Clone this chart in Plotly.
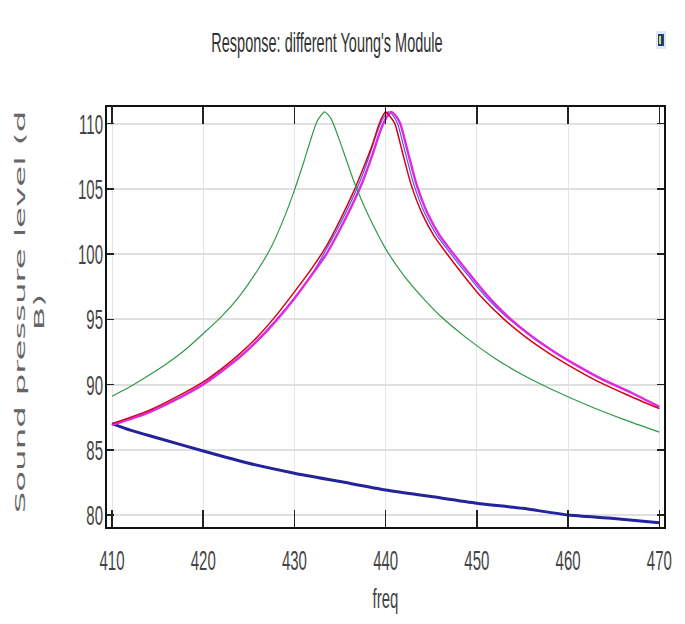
import plotly.graph_objects as go

# ---------------- data ----------------
green_f = [410, 412, 414, 416, 418, 420, 422, 424, 426, 427.5, 429, 430, 431, 431.8, 432.5, 433.3,
           434.0, 434.8, 435.6, 436.5, 437.5, 438.5, 440, 442, 444, 446, 449, 452, 455, 458, 462, 466, 470]
green_v = [89.1, 89.85, 90.7, 91.6, 92.65, 93.9, 95.2, 96.8, 98.8, 100.6, 103.0, 104.9, 107.0, 108.8, 110.2, 110.9,
           110.4, 109.0, 107.4, 105.6, 103.9, 102.4, 100.4, 98.35, 96.7, 95.25, 93.5, 92.0, 90.75, 89.7, 88.45, 87.35, 86.35]

red_f = [410, 414, 418, 420, 422, 424, 426, 428, 430, 432, 433.5, 435, 436.5, 437.5, 438.5, 439.3, 439.7, 440.0,
         440.3, 441.0, 441.8, 442.8, 444.0, 445.3, 446.8, 448.5, 450.5, 452.9, 455.5, 458, 460.5, 463.1, 466.5, 470]
red_v = [87.0, 88.0, 89.4, 90.2, 91.2, 92.35, 93.7, 95.3, 97.1, 99.0, 100.6, 102.6, 104.8, 106.5, 108.3, 110.0, 110.6, 110.9,
         110.7, 110.0, 107.9, 105.3, 103.1, 101.4, 99.95, 98.4, 96.7, 95.05, 93.55, 92.35, 91.3, 90.3, 89.2, 88.15]

magenta_f = [410, 414, 418, 420, 422, 424, 426, 428, 430, 432, 433.5, 435, 436.5, 437.5, 438.5, 439.5, 440.2, 440.6,
             441.0, 441.6, 442.4, 443.4, 444.6, 445.9, 447.4, 449.1, 451.1, 453.4, 456, 458.5, 461, 463.6, 467, 470]
magenta_v = [86.9, 87.85, 89.2, 90.0, 91.0, 92.1, 93.4, 94.9, 96.6, 98.5, 100.0, 101.9, 104.0, 105.6, 107.5, 109.6, 110.6, 110.9,
             110.7, 110.0, 107.9, 105.3, 103.1, 101.45, 100.05, 98.55, 96.85, 95.2, 93.7, 92.5, 91.45, 90.45, 89.35, 88.3]

blue_f = [410, 414, 418, 420, 422, 424, 426, 428, 430, 432, 433.2, 434.7, 436.2, 437.2, 438.2, 439.2, 439.9, 440.3,
          440.7, 441.3, 442.1, 443.1, 444.3, 445.6, 447.1, 448.8, 450.8, 453.2, 456, 458.5, 461, 463.6, 467, 470]
blue_v = [86.95, 87.9, 89.25, 90.05, 91.05, 92.15, 93.45, 94.95, 96.65, 98.55, 100.0, 101.9, 104.0, 105.6, 107.5, 109.6, 110.6, 110.9,
          110.7, 110.0, 107.9, 105.3, 103.1, 101.45, 100.05, 98.55, 96.85, 95.2, 93.7, 92.5, 91.45, 90.45, 89.35, 88.25]

navy_f = [410, 412, 415, 420, 425, 430, 435, 440, 445, 450, 455, 460, 465, 470]
navy_v = [87.0, 86.5, 85.9, 84.9, 83.96, 83.2, 82.56, 81.92, 81.41, 80.9, 80.51, 80.0, 79.74, 79.41]

x_ticks = [410, 420, 430, 440, 450, 460, 470]
y_ticks = [80, 85, 90, 95, 100, 105, 110]

title_text = "Response: different Young's Module"
x_title = "freq"
y_title = "Sound pressure level (d<br>B)"

# ---------------- figure ----------------
fig = go.Figure()
fig.add_trace(go.Scatter(x=navy_f, y=navy_v, mode="lines", line=dict(color="#23239c", width=3, shape="spline", smoothing=0.6)))
fig.add_trace(go.Scatter(x=blue_f, y=blue_v, mode="lines", line=dict(color="#4a5cf0", width=1.2, shape="spline", smoothing=0.6)))
fig.add_trace(go.Scatter(x=magenta_f, y=magenta_v, mode="lines", line=dict(color="#e028e0", width=2.4, shape="spline", smoothing=0.6)))
fig.add_trace(go.Scatter(x=red_f, y=red_v, mode="lines", line=dict(color="#d80018", width=1.5, shape="spline", smoothing=0.6)))
fig.add_trace(go.Scatter(x=green_f, y=green_v, mode="lines", line=dict(color="#2f9a45", width=1.2, shape="spline", smoothing=0.6)))

tickfont = dict(family="Liberation Sans, Arial, sans-serif", size=15, color="#444444")

fig.update_layout(
    width=685, height=624,
    margin=dict(l=107, r=21, t=107, b=97, autoexpand=False),
    paper_bgcolor="white", plot_bgcolor="white",
    showlegend=False,
    hovermode=False,
    title=dict(text=title_text, x=327 / 685, xanchor="center", xref="container",
               y=1 - 42 / 624, yanchor="middle", yref="container",
               font=dict(family="Liberation Sans, Arial, sans-serif", size=14.5, color="#333333")),
    xaxis=dict(range=[409.452, 470.515], tickvals=x_ticks, ticktext=[str(v) for v in x_ticks],
               showgrid=True, gridcolor="#e4e4ec", gridwidth=1, zeroline=False,
               showline=True, linecolor="#111111", linewidth=2, mirror="ticks",
               ticks="inside", ticklen=17, tickwidth=1.5, tickcolor="#222222",
               tickfont=tickfont, ticklabelstandoff=18,
               title=dict(text=x_title, standoff=26,
                          font=dict(family="Liberation Sans, Arial, sans-serif", size=15, color="#444444"))),
    yaxis=dict(range=[79.08, 111.27], tickvals=y_ticks, ticktext=[str(v) for v in y_ticks],
               showgrid=True, gridcolor="#e0e0e0", gridwidth=2, zeroline=False,
               showline=True, linecolor="#111111", linewidth=2, mirror="ticks",
               ticks="inside", ticklen=7, tickwidth=1.5, tickcolor="#222222",
               tickfont=tickfont, ticklabelstandoff=-1,
               title=dict(text=y_title, standoff=30,
                          font=dict(family="DejaVu Sans, Verdana, sans-serif", size=14.5, color="#666666"))),
)

# small icon at top right
fig.add_shape(type="rect", xref="paper", yref="paper",
              x0=(656 - 107) / 557, x1=(666 - 107) / 557, y0=(527 - 49) / 420, y1=(527 - 31) / 420,
              fillcolor="#dfe6f8", line=dict(width=0))
fig.add_shape(type="rect", xref="paper", yref="paper",
              x0=(658 - 107) / 557, x1=(664 - 107) / 557, y0=(527 - 46) / 420, y1=(527 - 34) / 420,
              fillcolor="#223f8f", line=dict(width=0))
fig.add_shape(type="rect", xref="paper", yref="paper",
              x0=(659 - 107) / 557, x1=(661 - 107) / 557, y0=(527 - 44) / 420, y1=(527 - 36) / 420,
              fillcolor="#d9df3a", line=dict(width=0))

post = """
(function(){
  document.body.style.margin = '0';
  document.body.style.overflow = 'hidden';
  var gd = document.getElementById('{plot_id}');
  function stretch(el, k, dy){
    try {
      var P = el.parentNode.getScreenCTM();
      var C = el.getScreenCTM();
      var r = el.getBoundingClientRect();
      var cx = r.left + r.width/2, cy = r.top + r.height/2;
      var svg = el.ownerSVGElement;
      var S = svg.createSVGMatrix().translate(cx, cy + (dy || 0)).scaleNonUniform(1, k).translate(-cx, -cy);
      var M = P.inverse().multiply(S).multiply(C);
      el.setAttribute('transform', 'matrix(' + [M.a,M.b,M.c,M.d,M.e,M.f].join(',') + ')');
    } catch(e) {}
  }
  gd.querySelectorAll('.xtick text, .ytick text, .gtitle, .xtitle').forEach(function(el){ stretch(el, 1.9, 0); });
  gd.querySelectorAll('.ytitle').forEach(function(el){ stretch(el, 2.35, -5); });
})();
"""

fig.write_html("out.html", config={"displayModeBar": False, "staticPlot": True}, post_script=post)
